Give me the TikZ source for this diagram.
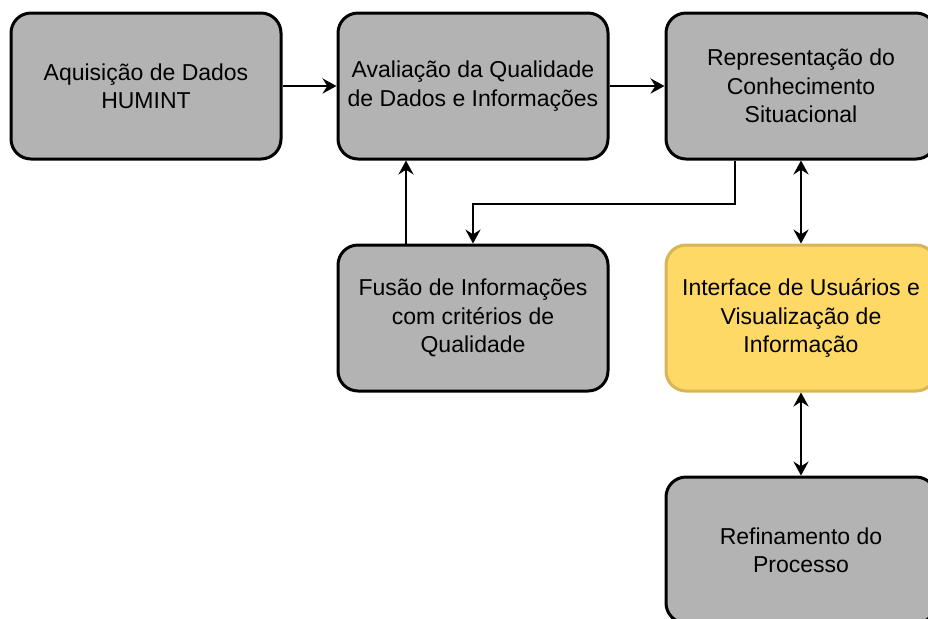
\documentclass[tikz,border=0pt]{standalone}
\usepackage{fontspec}
\setmainfont{Liberation Sans}
\usetikzlibrary{arrows.meta}
\definecolor{boxgray}{HTML}{B3B3B3}
\definecolor{boxyellow}{HTML}{FFD966}
\definecolor{edgeyellow}{HTML}{D6B656}
\tikzset{
  blk/.style={draw, line width=1.5pt, rounded corners=10pt, fill=boxgray,
    minimum width=135pt, minimum height=73pt, inner sep=0pt, align=center,
    font=\fontsize{11.5}{14.2}\selectfont},
  hl/.style={blk, fill=boxyellow, draw=edgeyellow},
  tip/.style={Stealth[length=7pt,width=7.6pt,inset=2.4pt]},
  conn/.style={line width=1pt, -{Stealth[length=7pt,width=7.6pt,inset=2.4pt]}},
  both/.style={line width=1pt, {Stealth[length=7pt,width=7.6pt,inset=2.4pt]}-{Stealth[length=7pt,width=7.6pt,inset=2.4pt]}}
}
\begin{document}
\begin{tikzpicture}[x=0.5pt, y=-0.5pt]
\clip (0,0) rectangle (928,618);
\path (146,86) node[blk] (aq) {Aquisição de Dados\\HUMINT};
\path (473,86) node[blk] (aval) {Avaliação da Qualidade\\de Dados e Informações};
\path (801,86) node[blk] (rep) {Representação do\\Conhecimento\\Situacional};
\path (473,318) node[blk] (fus) {Fusão de Informações\\com critérios de\\Qualidade};
\path (801,318) node[hl] (intf) {Interface de Usuários e\\Visualização de\\Informação};
\path (801,550) node[blk] (ref) {Refinamento do\\Processo};
% fluxo principal
\draw[conn] (aq) -- (aval);
\draw[conn] (aval) -- (rep);
\draw[conn] ([xshift=-33.5pt]fus.north) -- ([xshift=-33.5pt]aval.south);
\draw[conn] ([xshift=-33pt]rep.south) -- ++(0,43) -| (fus.north);
% ligacoes bidirecionais
\draw[both] (rep) -- (intf);
\draw[both] (intf) -- (ref);
\end{tikzpicture}
\end{document}
